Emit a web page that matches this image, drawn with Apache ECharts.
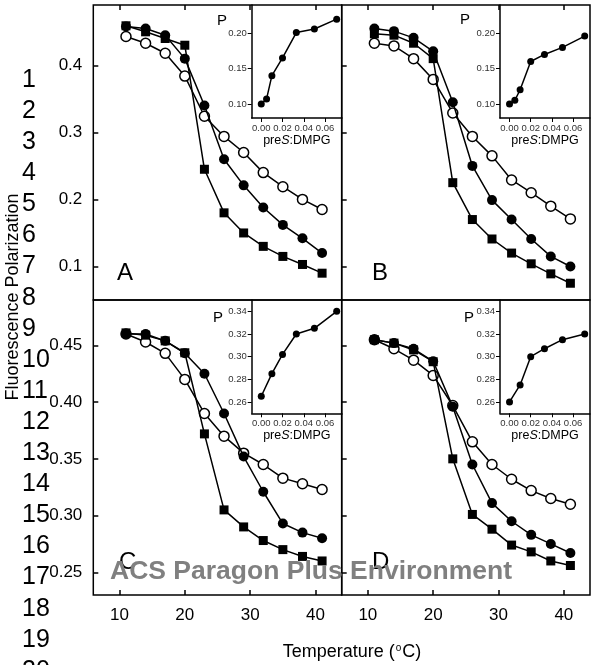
<!DOCTYPE html>
<html>
<head>
<meta charset="utf-8">
<script src="https://cdn.jsdelivr.net/npm/echarts@6/dist/echarts.min.js"></script>
<style>
html, body { margin: 0; padding: 0; background: #fff; }
#chart { width: 591px; height: 665px; }
</style>
</head>
<body>
<div id="chart"></div>
<script>
// temperatures (x) shared by all four panels
var temps = [11, 14, 17, 20, 23, 26, 29, 32, 35, 38, 41];

// panel A
var aOpen   = [0.443, 0.433, 0.418, 0.384, 0.324, 0.294, 0.270, 0.240, 0.219, 0.200, 0.185];
var aFilled = [0.458, 0.455, 0.445, 0.410, 0.340, 0.260, 0.221, 0.188, 0.162, 0.142, 0.120];
var aSquare = [0.459, 0.450, 0.440, 0.430, 0.245, 0.180, 0.150, 0.130, 0.115, 0.103, 0.090];
// panel B
var bOpen   = [0.433, 0.429, 0.410, 0.379, 0.329, 0.294, 0.265, 0.229, 0.210, 0.190, 0.171];
var bFilled = [0.455, 0.451, 0.441, 0.421, 0.345, 0.250, 0.199, 0.170, 0.141, 0.115, 0.100];
var bSquare = [0.447, 0.445, 0.433, 0.410, 0.225, 0.170, 0.141, 0.120, 0.104, 0.089, 0.075];
// panel C
var cOpen   = [0.460, 0.453, 0.443, 0.420, 0.390, 0.370, 0.355, 0.345, 0.333, 0.328, 0.323];
var cFilled = [0.460, 0.460, 0.454, 0.443, 0.425, 0.390, 0.352, 0.321, 0.293, 0.285, 0.280];
var cSquare = [0.461, 0.459, 0.454, 0.4435, 0.372, 0.305, 0.290, 0.278, 0.270, 0.264, 0.260];
// panel D
var dOpen   = [0.455, 0.447, 0.437, 0.4235, 0.397, 0.365, 0.345, 0.332, 0.322, 0.315, 0.310];
var dFilled = [0.455, 0.452, 0.447, 0.436, 0.396, 0.345, 0.311, 0.295, 0.283, 0.275, 0.267];
var dSquare = [0.455, 0.452, 0.446, 0.4356, 0.350, 0.301, 0.288, 0.274, 0.268, 0.260, 0.256];

// insets: P vs preS:DMPG
var insetXTop = [0, 0.005, 0.01, 0.02, 0.033, 0.05, 0.071];
var insetA = [0.100, 0.107, 0.140, 0.165, 0.201, 0.206, 0.220];
var insetB = [0.100, 0.105, 0.120, 0.160, 0.170, 0.180, 0.196];
var insetXBottom = [0, 0.01, 0.02, 0.033, 0.05, 0.071];
var insetC = [0.265, 0.285, 0.302, 0.320, 0.325, 0.340];
var insetD = [0.260, 0.275, 0.300, 0.307, 0.315, 0.320];

// tick labels
var tempTicks = [10, 20, 30, 40];
var topPTicks = [0.1, 0.2, 0.3, 0.4];
var bottomPTicks = [0.25, 0.30, 0.35, 0.40, 0.45];
var insetTopTicks = [0.10, 0.15, 0.20];
var insetBottomTicks = [0.26, 0.28, 0.30, 0.32, 0.34];
var ratioTicks = [0, 0.02, 0.04, 0.06];
var panelNames = ['A', 'B', 'C', 'D'];

var FONT = 'Liberation Sans, Arial, sans-serif';

function pairs(xs, ys) {
    return ys.map(function (v, i) { return [xs[i], v]; });
}

var grids = [
    {left: 93.3, top: 5, width: 248.4, height: 295},
    {left: 341.7, top: 5, width: 248.3, height: 295},
    {left: 93.3, top: 300, width: 248.4, height: 295},
    {left: 341.7, top: 300, width: 248.3, height: 295},
    // insets
    {left: 251.7, top: 5, width: 90.3, height: 113},
    {left: 500, top: 5, width: 90, height: 113},
    {left: 251.7, top: 300, width: 90.3, height: 113.3},
    {left: 500, top: 300, width: 90, height: 113.3}
];
grids.forEach(function (g, i) {
    g.containLabel = false;
    if (i < 4) {
        g.show = true;
        g.borderColor = '#000';
        g.borderWidth = 1.5;
    }
});

var xAxes = [], yAxes = [], series = [];

for (var p = 0; p < 4; p++) {
    var isTop = p < 2;
    var isLeft = p % 2 === 0;
    xAxes.push({
        type: 'value', gridIndex: p, min: 6, max: 44,
        position: isTop ? 'top' : 'bottom',
        axisLine: {show: false, onZero: false},
        splitLine: {show: false},
        axisTick: {inside: true, length: 5, customValues: tempTicks, lineStyle: {color: '#000', width: 1.5}},
        axisLabel: {show: !isTop, customValues: tempTicks, margin: 12, fontSize: 17, color: '#000', fontFamily: FONT}
    });
    yAxes.push({
        type: 'value', gridIndex: p,
        min: isTop ? 0.05 : 0.23, max: 0.49,
        position: 'left',
        axisLine: {show: false, onZero: false},
        splitLine: {show: false},
        axisTick: {inside: true, length: 5, customValues: isTop ? topPTicks : bottomPTicks, lineStyle: {color: '#000', width: 1.5}},
        axisLabel: {
            show: isLeft, customValues: isTop ? topPTicks : bottomPTicks, margin: 11,
            fontSize: 17, color: '#000', fontFamily: FONT,
            formatter: (function (t) { return function (v) { return v.toFixed(t ? 1 : 2); }; })(isTop)
        }
    });
}

for (var q = 0; q < 4; q++) {
    var upper = q < 2;
    xAxes.push({
        type: 'value', gridIndex: 4 + q, min: -0.009, max: 0.076, position: 'bottom',
        axisLine: {show: true, onZero: false, lineStyle: {color: '#000', width: 1.5}},
        splitLine: {show: false},
        axisTick: {inside: false, length: 4, customValues: ratioTicks, lineStyle: {color: '#000', width: 1}},
        axisLabel: {customValues: ratioTicks, margin: 5, fontSize: 9.5, color: '#333', fontFamily: FONT,
            formatter: function (v) { return v.toFixed(2); }},
        name: '{n|pre}{i|S}{n|:DMPG}', nameLocation: 'middle', nameGap: 14,
        nameTextStyle: {
            rich: {
                n: {fontSize: 12.5, color: '#000', fontFamily: FONT},
                i: {fontSize: 12.5, color: '#000', fontFamily: FONT, fontStyle: 'italic'}
            }
        }
    });
    yAxes.push({
        type: 'value', gridIndex: 4 + q,
        min: upper ? 0.08 : 0.25, max: upper ? 0.24 : 0.35, position: 'left',
        axisLine: {show: true, onZero: false, lineStyle: {color: '#000', width: 1.5}},
        splitLine: {show: false},
        axisTick: {inside: false, length: 4, customValues: upper ? insetTopTicks : insetBottomTicks, lineStyle: {color: '#000', width: 1}},
        axisLabel: {customValues: upper ? insetTopTicks : insetBottomTicks, margin: 5, fontSize: 9.5, color: '#333', fontFamily: FONT,
            formatter: function (v) { return v.toFixed(2); }}
    });
}

var panelData = [
    [aOpen, aFilled, aSquare],
    [bOpen, bFilled, bSquare],
    [cOpen, cFilled, cSquare],
    [dOpen, dFilled, dSquare]
];

panelData.forEach(function (sets, p) {
    // open circles first so filled markers sit on top
    series.push({
        type: 'line', xAxisIndex: p, yAxisIndex: p, data: pairs(temps, sets[0]),
        symbol: 'circle', symbolSize: 10, z: 3,
        lineStyle: {color: '#000', width: 1.5},
        itemStyle: {color: '#fff', borderColor: '#000', borderWidth: 1.5}
    });
    series.push({
        type: 'line', xAxisIndex: p, yAxisIndex: p, data: pairs(temps, sets[1]),
        symbol: 'circle', symbolSize: 10, z: 4,
        lineStyle: {color: '#000', width: 1.5},
        itemStyle: {color: '#000', borderWidth: 0}
    });
    series.push({
        type: 'line', xAxisIndex: p, yAxisIndex: p, data: pairs(temps, sets[2]),
        symbol: 'rect', symbolSize: 9, z: 5,
        lineStyle: {color: '#000', width: 1.5},
        itemStyle: {color: '#000', borderWidth: 0}
    });
});

[[insetXTop, insetA], [insetXTop, insetB], [insetXBottom, insetC], [insetXBottom, insetD]].forEach(function (s, q) {
    series.push({
        type: 'line', xAxisIndex: 4 + q, yAxisIndex: 4 + q, data: pairs(s[0], s[1]),
        symbol: 'circle', symbolSize: 7, z: 4,
        lineStyle: {color: '#000', width: 1.5},
        itemStyle: {color: '#000', borderWidth: 0}
    });
});

var graphics = [];
// manuscript line numbers down the left margin
for (var n = 1; n <= 20; n++) {
    graphics.push({
        type: 'text', x: 22, y: 80 + 31.1 * (n - 1), z: 50,
        style: {text: String(n), fontSize: 25, fontFamily: FONT, fill: '#000', verticalAlign: 'middle'}
    });
}
// y axis title
graphics.push({
    type: 'text', x: 13, y: 297, rotation: Math.PI / 2, z: 60,
    style: {text: 'Fluorescence Polarization', fontSize: 18, fontFamily: FONT, fill: '#000', align: 'center', verticalAlign: 'middle'}
});
// panel letters
var letterPos = [[117, 273], [372, 273], [119, 562], [372, 562]];
panelNames.forEach(function (t, i) {
    graphics.push({
        type: 'text', x: letterPos[i][0], y: letterPos[i][1], z: 40,
        style: {text: t, fontSize: 24, fontFamily: FONT, fill: '#000', verticalAlign: 'middle'}
    });
});
// inset "P" labels
var pPos = [[222, 21], [465, 20], [218, 318], [469, 318]];
pPos.forEach(function (pt) {
    graphics.push({
        type: 'text', x: pt[0], y: pt[1], z: 40,
        style: {text: 'P', fontSize: 15, fontFamily: FONT, fill: '#000', align: 'center', verticalAlign: 'middle'}
    });
});
// x axis title
graphics.push({
    type: 'text', x: 352, y: 652, z: 40,
    style: {
        text: '{a|Temperature (}{s|o}{a|C)}', align: 'center', verticalAlign: 'middle',
        rich: {
            a: {fontSize: 18, fontFamily: FONT, fill: '#000'},
            s: {fontSize: 10, fontFamily: FONT, fill: '#000', verticalAlign: 'top', padding: [0, 1, 8, 1]}
        }
    }
});
// watermark
graphics.push({
    type: 'text', x: 110, y: 572, z: 100,
    style: {text: 'ACS Paragon Plus Environment', fontSize: 26.5, fontWeight: 'bold', fontFamily: FONT, fill: '#808080', verticalAlign: 'middle'}
});

var option = {
    animation: false,
    backgroundColor: '#fff',
    grid: grids,
    xAxis: xAxes,
    yAxis: yAxes,
    series: series,
    graphic: graphics
};

var myChart = echarts.init(document.getElementById('chart'));
myChart.setOption(option);
</script>
</body>
</html>
